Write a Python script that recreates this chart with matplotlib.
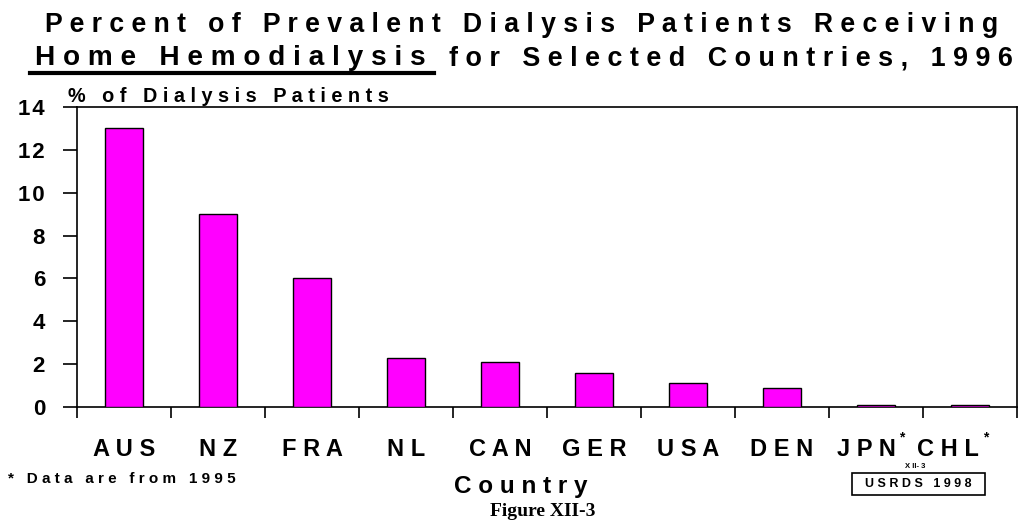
import matplotlib
matplotlib.use("Agg")
import matplotlib.pyplot as plt
from matplotlib.patches import Rectangle
from matplotlib.lines import Line2D

countries = ["AUS", "NZ", "FRA", "NL", "CAN", "GER", "USA", "DEN", "JPN", "CHL"]
home_hd_pct = [13.0, 9.0, 6.0, 2.3, 2.1, 1.6, 1.1, 0.9, 0.1, 0.1]
from_1995 = [False, False, False, False, False, False, False, False, True, True]
y_ticks = [0, 2, 4, 6, 8, 10, 12, 14]


def spaced(s, sep=" "):
    """Letter-spaced text: one gap between every pair of characters."""
    return sep.join(s)


W, H = 1018, 525
fig = plt.figure(figsize=(W / 100, H / 100), dpi=100)
FONT = "Liberation Sans"

ax = fig.add_axes([77 / W, (H - 407) / H, 940 / W, 300 / H])
x = list(range(len(countries)))
ax.bar(x, home_hd_pct, width=0.41, color="#FF00FF", edgecolor="black", linewidth=1.0, zorder=3)
ax.set_xlim(-0.5, len(countries) - 0.5)
ax.set_ylim(0, 14)

for side in ["left", "right", "top", "bottom"]:
    ax.spines[side].set_linewidth(1.2)
    ax.spines[side].set_color("black")

ax.set_yticks(y_ticks)
ax.set_yticklabels([spaced(str(v), "\u200a") for v in y_ticks], fontfamily=FONT,
                   fontweight="bold", fontsize=16)
ax.tick_params(axis="y", direction="out", length=10, width=1.2, pad=13)

# category boundary ticks on the x axis
ax.set_xticks([i - 0.5 for i in range(len(countries) + 1)])
ax.set_xticklabels([])
ax.tick_params(axis="x", direction="out", length=8, width=1.2)


def px(xp, yp):
    return xp / W, 1 - yp / H


fig.canvas.draw()
r = fig.canvas.get_renderer()

for i, name in enumerate(countries):
    xc = ax.transData.transform((i, 0))[0]
    shift = 0
    if from_1995[i]:
        # starred labels are centred together with their asterisk
        shift = 10 if i < len(countries) - 1 else 22
    t = fig.text((xc - shift) / W, 1 - 450 / H, spaced(name), ha="center", va="center",
                 fontfamily=FONT, fontweight="bold", fontsize=17)
    if from_1995[i]:
        bb = t.get_window_extent(renderer=r)
        fig.text((bb.x1 + 4) / W, 1 - 437 / H, "*", ha="left", va="center",
                 fontfamily=FONT, fontweight="bold", fontsize=10)

# title
fig.text(*px(521.5, 25), spaced("Percent of Prevalent Dialysis Patients Receiving"),
         ha="center", va="center", fontfamily=FONT, fontweight="bold", fontsize=19.2)

t_a = fig.text(*px(35, 58), spaced("Home Hemodialysis"), ha="left", va="center",
               fontfamily=FONT, fontweight="bold", fontsize=20.2)
bb = t_a.get_window_extent(renderer=r)
fig.text(1013 / W, 1 - 58 / H, spaced("for Selected Countries, 1996"), ha="right",
         va="center", fontfamily=FONT, fontweight="bold", fontsize=19.4)
fig.add_artist(Line2D([30 / W, (bb.x1 + 8) / W], [1 - 73 / H, 1 - 73 / H],
                      color="black", linewidth=3.0, transform=fig.transFigure))

# y axis caption
fig.text(*px(68, 97), spaced("% of Dialysis Patients"), ha="left", va="center",
         fontfamily=FONT, fontweight="bold", fontsize=14.3)

# x axis caption
fig.text(*px(521, 487), spaced("Country"), ha="center", va="center", fontfamily=FONT,
         fontweight="bold", fontsize=17.5)

# footnote
fig.text(*px(8, 479), spaced("* Data are from 1995"), ha="left", va="center",
         fontfamily=FONT, fontweight="bold", fontsize=11)

# figure number
fig.text(*px(543, 511), "Figure XII-3", ha="center", va="center",
         fontfamily="Liberation Serif", fontweight="bold", fontsize=14)

# source box
fig.text(*px(915, 467), "X II- 3", ha="center", va="center", fontfamily=FONT,
         fontweight="bold", fontsize=5.5)
fig.add_artist(Rectangle(px(852, 495), 133 / W, 22 / H, transform=fig.transFigure,
                         fill=False, edgecolor="black", linewidth=1.2))
fig.text(*px(918, 484), spaced("USRDS 1998"), ha="center", va="center", fontfamily=FONT,
         fontweight="bold", fontsize=9)

fig.savefig("out.png", dpi=100)
